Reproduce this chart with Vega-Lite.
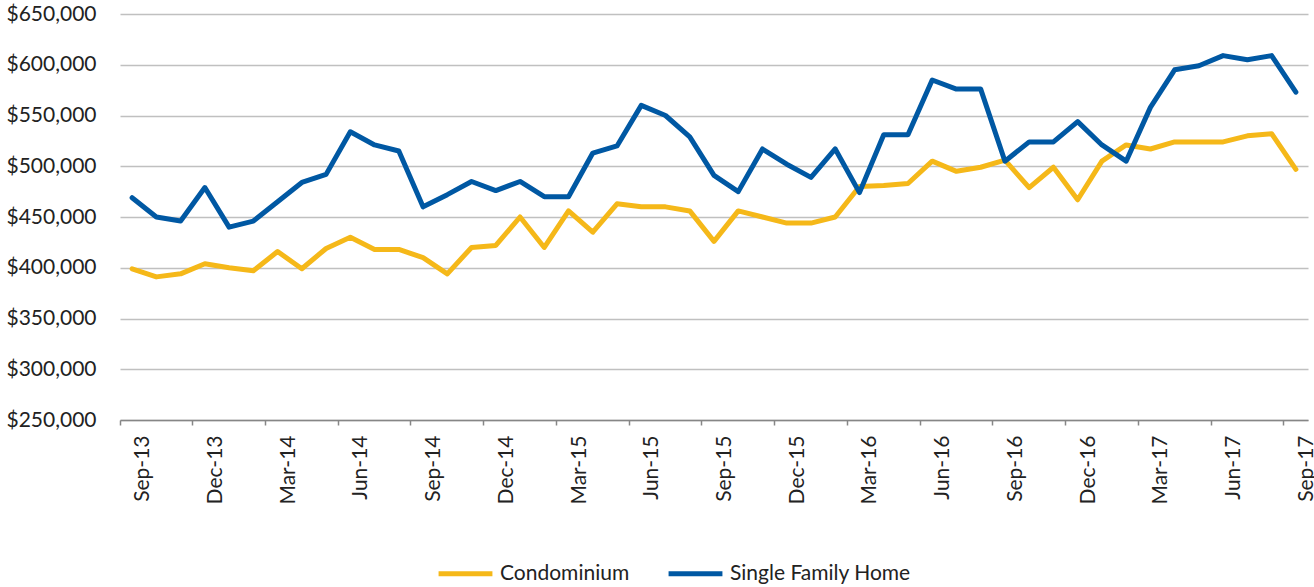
{
  "$schema": "https://vega.github.io/schema/vega-lite/v6.json",
  "width": 1188,
  "height": 406,
  "autosize": "none",
  "padding": {"left": 120, "top": 14, "right": 6, "bottom": 167},
  "background": "white",
  "config": {
    "font": "Lato",
    "view": {"stroke": null}
  },
  "data": {
    "values": [
      {"month": "Sep-13", "Condominium": 399000, "Single Family Home": 469000},
      {"month": "Oct-13", "Condominium": 391000, "Single Family Home": 450000},
      {"month": "Nov-13", "Condominium": 394000, "Single Family Home": 446000},
      {"month": "Dec-13", "Condominium": 404000, "Single Family Home": 479000},
      {"month": "Jan-14", "Condominium": 400000, "Single Family Home": 440000},
      {"month": "Feb-14", "Condominium": 397000, "Single Family Home": 446000},
      {"month": "Mar-14", "Condominium": 416000, "Single Family Home": 465000},
      {"month": "Apr-14", "Condominium": 399000, "Single Family Home": 484000},
      {"month": "May-14", "Condominium": 419000, "Single Family Home": 492000},
      {"month": "Jun-14", "Condominium": 430000, "Single Family Home": 534000},
      {"month": "Jul-14", "Condominium": 418000, "Single Family Home": 521000},
      {"month": "Aug-14", "Condominium": 418000, "Single Family Home": 515000},
      {"month": "Sep-14", "Condominium": 410000, "Single Family Home": 460000},
      {"month": "Oct-14", "Condominium": 394000, "Single Family Home": 472000},
      {"month": "Nov-14", "Condominium": 420000, "Single Family Home": 485000},
      {"month": "Dec-14", "Condominium": 422000, "Single Family Home": 476000},
      {"month": "Jan-15", "Condominium": 450000, "Single Family Home": 485000},
      {"month": "Feb-15", "Condominium": 420000, "Single Family Home": 470000},
      {"month": "Mar-15", "Condominium": 456000, "Single Family Home": 470000},
      {"month": "Apr-15", "Condominium": 435000, "Single Family Home": 513000},
      {"month": "May-15", "Condominium": 463000, "Single Family Home": 520000},
      {"month": "Jun-15", "Condominium": 460000, "Single Family Home": 560000},
      {"month": "Jul-15", "Condominium": 460000, "Single Family Home": 550000},
      {"month": "Aug-15", "Condominium": 456000, "Single Family Home": 529000},
      {"month": "Sep-15", "Condominium": 426000, "Single Family Home": 491000},
      {"month": "Oct-15", "Condominium": 456000, "Single Family Home": 475000},
      {"month": "Nov-15", "Condominium": 450000, "Single Family Home": 517000},
      {"month": "Dec-15", "Condominium": 444000, "Single Family Home": 502000},
      {"month": "Jan-16", "Condominium": 444000, "Single Family Home": 489000},
      {"month": "Feb-16", "Condominium": 450000, "Single Family Home": 517000},
      {"month": "Mar-16", "Condominium": 480000, "Single Family Home": 474000},
      {"month": "Apr-16", "Condominium": 481000, "Single Family Home": 531000},
      {"month": "May-16", "Condominium": 483000, "Single Family Home": 531000},
      {"month": "Jun-16", "Condominium": 505000, "Single Family Home": 585000},
      {"month": "Jul-16", "Condominium": 495000, "Single Family Home": 576000},
      {"month": "Aug-16", "Condominium": 499000, "Single Family Home": 576000},
      {"month": "Sep-16", "Condominium": 506000, "Single Family Home": 505000},
      {"month": "Oct-16", "Condominium": 479000, "Single Family Home": 524000},
      {"month": "Nov-16", "Condominium": 499000, "Single Family Home": 524000},
      {"month": "Dec-16", "Condominium": 467000, "Single Family Home": 544000},
      {"month": "Jan-17", "Condominium": 505000, "Single Family Home": 521000},
      {"month": "Feb-17", "Condominium": 521000, "Single Family Home": 505000},
      {"month": "Mar-17", "Condominium": 517000, "Single Family Home": 558000},
      {"month": "Apr-17", "Condominium": 524000, "Single Family Home": 595000},
      {"month": "May-17", "Condominium": 524000, "Single Family Home": 599000},
      {"month": "Jun-17", "Condominium": 524000, "Single Family Home": 609000},
      {"month": "Jul-17", "Condominium": 530000, "Single Family Home": 605000},
      {"month": "Aug-17", "Condominium": 532000, "Single Family Home": 609000},
      {"month": "Sep-17", "Condominium": 497000, "Single Family Home": 573000}
    ]
  },
  "transform": [
    {"fold": ["Condominium", "Single Family Home"], "as": ["type", "price"]}
  ],
  "mark": {"type": "line", "strokeWidth": 5, "strokeJoin": "round", "strokeCap": "round"},
  "encoding": {
    "x": {
      "field": "month",
      "type": "ordinal",
      "sort": null,
      "scale": {"type": "band", "paddingInner": 0, "paddingOuter": 0},
      "axis": {
        "title": null,
        "values": ["Sep-13", "Dec-13", "Mar-14", "Jun-14", "Sep-14", "Dec-14", "Mar-15", "Jun-15", "Sep-15", "Dec-15", "Mar-16", "Jun-16", "Sep-16", "Dec-16", "Mar-17", "Jun-17", "Sep-17"],
        "bandPosition": 0,
        "labelOffset": 11,
        "labelAngle": -90,
        "labelFontSize": 21,
        "labelColor": "#222222",
        "labelPadding": 10,
        "labelBound": false,
        "tickSize": 5,
        "tickColor": "#868686",
        "tickWidth": 1.5,
        "domainColor": "#868686",
        "domainWidth": 1.5,
        "grid": false
      }
    },
    "y": {
      "field": "price",
      "type": "quantitative",
      "scale": {"domain": [250000, 650000], "nice": false, "zero": false},
      "axis": {
        "title": null,
        "values": [250000, 300000, 350000, 400000, 450000, 500000, 550000, 600000, 650000],
        "format": "$,.0f",
        "labelFontSize": 21,
        "labelColor": "#222222",
        "labelPadding": 24,
        "ticks": false,
        "tickSize": 0,
        "domain": false,
        "grid": true,
        "gridColor": "#C0C0C0",
        "gridWidth": 1.4
      }
    },
    "color": {
      "field": "type",
      "type": "nominal",
      "scale": {"domain": ["Condominium", "Single Family Home"], "range": ["#F5B819", "#0058A3"]},
      "legend": {
        "title": null,
        "orient": "none",
        "direction": "horizontal",
        "legendX": 316,
        "legendY": 530,
        "padding": 0,
        "symbolType": "stroke",
        "symbolSize": 2900,
        "symbolStrokeWidth": 5,
        "labelFontSize": 21,
        "labelLimit": 400,
        "labelColor": "#222222",
        "labelOffset": 5,
        "columnPadding": 28
      }
    }
  }
}
